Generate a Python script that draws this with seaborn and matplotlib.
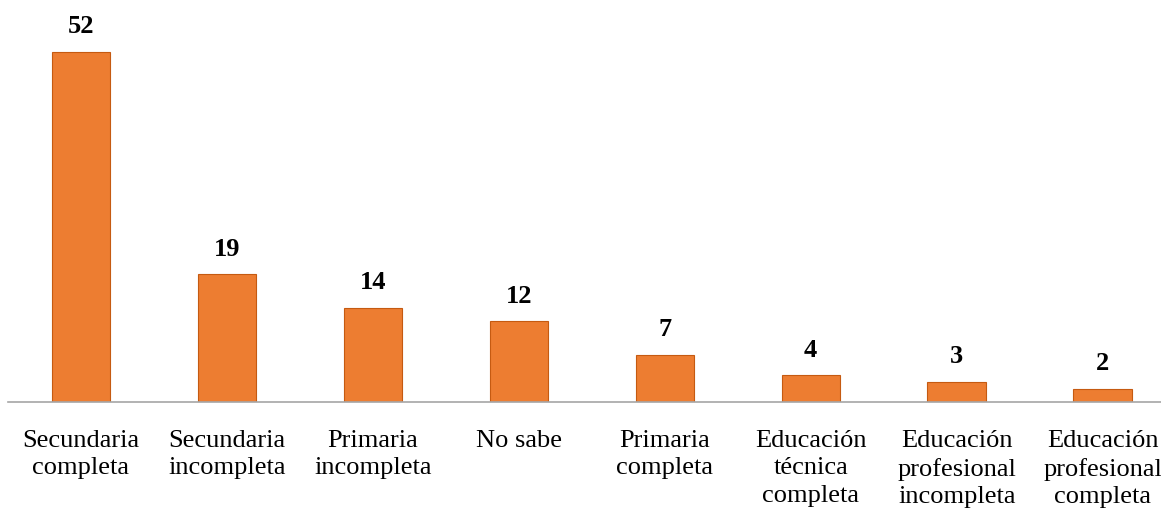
import matplotlib
matplotlib.use('Agg')
import matplotlib.pyplot as plt
import seaborn as sns

categorias = ['Secundaria\ncompleta', 'Secundaria\nincompleta', 'Primaria\nincompleta',
              'No sabe', 'Primaria\ncompleta', 'Educación\ntécnica\ncompleta',
              'Educación\nprofesional\nincompleta', 'Educación\nprofesional\ncompleta']
valores = [52, 19, 14, 12, 7, 4, 3, 2]

sns.set_style('white')
plt.rcParams['font.family'] = ['Liberation Serif', 'DejaVu Serif']
plt.rcParams['text.color'] = 'black'
plt.rcParams['xtick.color'] = 'black'

fig = plt.figure(figsize=(11.61, 5.08), dpi=100)
ax = fig.add_axes([8 / 1161, 106 / 508, 1153 / 1161, 382 / 508])

sns.barplot(x=categorias, y=valores, color='#ED7D31', saturation=1, width=0.4,
            edgecolor='#C55A11', linewidth=0.8, ax=ax)

for i, v in enumerate(valores):
    ax.text(i, v + 2.0, str(v), ha='center', va='bottom', fontsize=19, fontweight='bold')

ax.set_xlim(-0.5, 7.4)
ax.set_ylim(0, 56.7)
ax.set_yticks([])
for s in ['top', 'right', 'left']:
    ax.spines[s].set_visible(False)
ax.spines['bottom'].set_color('#A6A6A6')
ax.spines['bottom'].set_linewidth(1.2)
ax.tick_params(axis='x', length=0, pad=20, labelsize=19)
for t in ax.get_xticklabels():
    t.set_linespacing(1.32)
ax.set_xlabel('')
ax.set_ylabel('')

fig.savefig('out.png', dpi=100)
